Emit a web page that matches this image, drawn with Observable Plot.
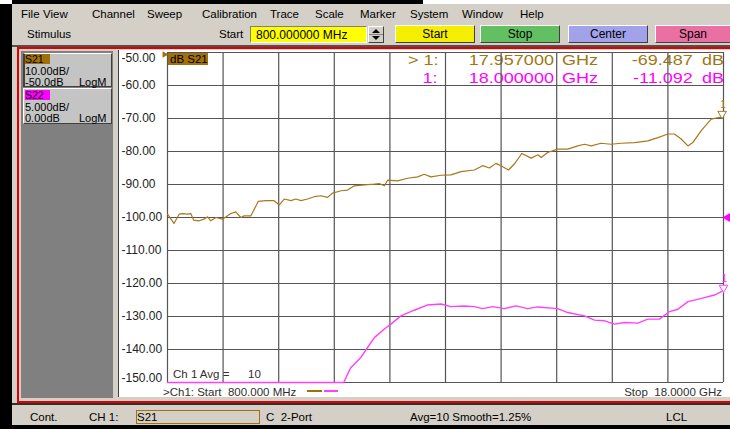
<!DOCTYPE html>
<html><head><meta charset="utf-8">
<script src="https://cdn.jsdelivr.net/npm/d3@7"></script>
<script src="https://cdn.jsdelivr.net/npm/@observablehq/plot@0.6"></script>
<style>
html,body{margin:0;padding:0;background:#fff;}
#root{position:relative;width:730px;height:429px;overflow:hidden;font-family:"Liberation Sans",Arial,sans-serif;font-size:11.5px;color:#000;}
.a{position:absolute;white-space:pre;box-sizing:border-box;}
</style></head><body><div id="root"></div>
<script>
// ---------- data ----------
const S21_FREQ = [0.80,1.00,1.16,1.26,1.42,1.52,1.61,1.78,1.93,2.04,2.14,2.30,2.50,2.76,2.91,3.07,3.17,3.38,3.61,3.84,4.10,4.26,4.41,4.62,4.77,4.93,5.13,5.34,5.55,5.75,5.91,6.17,6.37,6.58,6.89,7.20,7.35,7.51,7.61,7.92,8.23,8.54,8.74,8.95,9.26,9.57,9.88,10.29,10.55,10.76,10.96,11.17,11.35,11.53,11.76,12.05,12.26,12.36,12.56,12.87,13.18,13.49,13.70,13.91,14.21,14.52,14.83,15.25,15.66,15.97,16.28,16.48,16.69,16.90,17.05,17.31,17.62,17.957,18.00];
const S21_DB = [-99.0,-101.8,-99.0,-98.8,-99.0,-98.8,-100.8,-101.0,-100.5,-99.8,-101.0,-100.0,-100.5,-98.8,-98.3,-100.0,-99.5,-99.5,-95.1,-94.9,-94.9,-96.2,-94.4,-94.9,-94.4,-94.9,-94.4,-93.7,-93.4,-93.9,-92.6,-91.9,-91.7,-90.4,-90.1,-89.9,-89.7,-90.4,-88.7,-88.9,-88.1,-87.7,-86.9,-87.7,-87.2,-87.1,-86.1,-85.6,-84.3,-85.0,-83.6,-84.6,-85.6,-83.8,-80.6,-82.0,-81.0,-81.8,-80.3,-79.3,-79.3,-78.3,-77.8,-78.3,-77.5,-77.8,-77.5,-77.3,-76.8,-75.8,-74.7,-74.7,-76.2,-78.3,-77.3,-73.7,-70.2,-69.487,-68.2];
const S22_FREQ = [0.80,6.25,6.47,6.78,6.99,7.20,7.51,7.71,8.02,8.43,8.85,9.26,9.57,9.98,10.29,10.55,10.86,11.22,11.58,11.94,12.25,12.87,13.18,13.70,14.01,14.32,14.63,14.94,15.35,15.66,16.02,16.33,16.59,16.90,17.32,17.72,18.00];
const S22_DB = [-25,-25,-22.75,-21.2,-19.7,-18.2,-16.9,-16.15,-14.9,-14.05,-13.25,-13.1,-13.5,-13.4,-13.5,-13.8,-13.5,-13.8,-13.4,-13.8,-13.55,-13.8,-14.4,-14.9,-15.55,-15.65,-16.15,-15.9,-16.0,-15.4,-15.4,-14.25,-13.9,-12.75,-12.25,-11.75,-11.092];
const Y_TICKS = [-50,-60,-70,-80,-90,-100,-110,-120,-130,-140,-150];
const Y_LABELS = ["-50.00","-60.00","-70.00","-80.00","-90.00","-100.00","-110.00","-120.00","-130.00","-140.00","-150.00"];
const X_GRID = [0.8,2.52,4.24,5.96,7.68,9.4,11.12,12.84,14.56,16.28,18];
const MARKER_S21 = {f:17.957, db:-69.487};
const MARKER_S22 = {f:18.0, db:-11.092};
const S21_SCALE = 10, S22_SCALE = 5, S22_REF = 0, CENTER = -100;
const MENU = [["File",21],["View",43],["Channel",92],["Sweep",147],["Calibration",202],["Trace",270],["Scale",315],["Marker",360],["System",410],["Window",462],["Help",520]];

// ---------- chrome ----------
const root = document.getElementById("root");
function box(x,y,w,h,css){const d=document.createElement("div");d.className="a";Object.assign(d.style,{left:x+"px",top:y+"px",width:w+"px",height:h+"px"},css||{});root.appendChild(d);return d;}
function txt(x,yc,s,css){const d=document.createElement("div");d.className="a";d.textContent=s;Object.assign(d.style,{left:x+"px",top:(yc-5)+"px",height:"10px",lineHeight:"10px"},css||{});root.appendChild(d);return d;}
function txtR(xr,yc,s,css){const d=document.createElement("div");d.className="a";d.textContent=s;Object.assign(d.style,{right:(730-xr)+"px",top:(yc-8)+"px",height:"16px",lineHeight:"16px",textAlign:"right"},css||{});root.appendChild(d);return d;}
const G="#d4d0c8";
const raised={borderTop:"1px solid #fff",borderLeft:"1px solid #fff",borderBottom:"1px solid #404040",borderRight:"1px solid #404040"};
const sunken={borderTop:"1px solid #808080",borderLeft:"1px solid #808080",borderBottom:"1px solid #fff",borderRight:"1px solid #fff"};

box(12,0,411,4,{background:"#000"});
box(0,4,12,425,{background:"#000"});
box(12,4,718,42,{background:G});
MENU.forEach(([s,x])=>txt(x,14,s,{fontSize:"11.5px"}));
txt(27,34,"Stimulus");
txt(219,34,"Start");
box(250,26,117,17,Object.assign({background:"#ffff00"},sunken));
txt(256,34.5,"800.000000 MHz",{fontSize:"12px"});
box(368,26,16,17,Object.assign({background:G},raised));
box(372,29,0,0,{borderLeft:"4px solid transparent",borderRight:"4px solid transparent",borderBottom:"4px solid #000"});
box(372,36,0,0,{borderLeft:"4px solid transparent",borderRight:"4px solid transparent",borderTop:"4px solid #000"});
box(369,34,14,1,{background:"#808080"});
const BTN=[["Start",395,80,"#f6ee00"],["Stop",480,80,"#62bf62"],["Center",568,80,"#a2a2ea"],["Span",655,76,"#ea70a4"]];
BTN.forEach(([s,x,w,c])=>{const b=box(x,25,w,18,Object.assign({background:c,textAlign:"center",lineHeight:"16px",fontSize:"12px"},raised));b.textContent=s;});
box(12,45,718,2,{background:"#505050"});
box(12,47,718,356,{background:G});
box(17,47,713,2,{background:"#e00000"});
box(17,47,2,357,{background:"#e00000"});
box(17,401,713,2,{background:"#e00000"});
box(21,51,92,347,{background:"#808080"});
box(118,50,612,347,{background:"#fff",borderLeft:"1.5px solid #404040"});
// S21 / S22 boxes
const PF={fontSize:"11px"};
box(23,53,89,34,Object.assign({background:"#c4c4c4"},raised,{borderLeft:"2px solid #404040"}));
box(25,54,25,10,{background:"#a0700a"});
txt(25,59,"S21",{fontSize:"10.5px"});
txt(25,70.5,"10.00dB/",PF);
txt(25,81.5,"-50.0dB",PF);
txt(79,81.5,"LogM",PF);
box(23,88,89,36,Object.assign({background:"#c4c4c4"},raised));
box(25,90,25,10,{background:"#ff00ff"});
txt(25,95,"S22",{fontSize:"10.5px"});
txt(25,106.5,"5.000dB/",PF);
txt(25,117.5,"0.00dB",PF);
txt(79,117.5,"LogM",PF);
// plot-area texts
box(168,53,40,12,{background:"#a0700a"});
txt(170,59,"dB S21");
const RO={fontSize:"15px",transform:"scaleX(1.2)",transformOrigin:"left center",height:"16px",lineHeight:"16px"};
const ROR={fontSize:"15px",transform:"scaleX(1.2)",transformOrigin:"right center"};
const brown="#a27614", mag="#ff00ff";
function ro(x,yc,s,c){return txt(x,yc,s,Object.assign({color:c,top:(yc-8)+"px"},RO));}
ro(408,60,"> 1:",brown);
txtR(554,60,"17.957000",Object.assign({color:brown},ROR));
ro(562,60,"GHz",brown);
txtR(693,60,"-69.487",Object.assign({color:brown},ROR));
ro(702,60,"dB",brown);
txtR(438,78,"1:",Object.assign({color:mag},ROR));
txtR(554,78,"18.000000",Object.assign({color:mag},ROR));
ro(562,78,"GHz",mag);
txtR(693,78,"-11.092",Object.assign({color:mag},ROR));
ro(702,78,"dB",mag);
txt(173,374,"Ch 1 Avg =",{color:"#303030"});
txt(248,374,"10",{color:"#303030"});
txt(163,391.5,">Ch1: Start  800.000 MHz",{color:"#303030"});
box(307,390,15,2,{background:"#a0700a"});
box(324,390,14,2,{background:"#ff40ff"});
txtR(722,391.5,"Stop  18.0000 GHz",{color:"#303030"});
// status bar
box(12,403,718,2,{background:"#303030"});
box(12,405,718,20,{background:G});
box(12,425,718,4,{background:"#000"});
txt(30,417,"Cont.");
txt(89,417,"CH 1:");
box(136,410,124,14,{border:"1px solid #a0700a",background:G});
txt(137,417,"S21");
txt(266,417,"C  2-Port");
txt(410,417,"Avg=10 Smooth=1.25%");
txt(666,417,"LCL");

// ---------- plot ----------
const s21 = S21_FREQ.map((f,i)=>({f, v:S21_DB[i]}));
const toDisp = db => CENTER + (db - S22_REF) * (S21_SCALE / S22_SCALE);
const s22 = S22_FREQ.map((f,i)=>({f, v:toDisp(S22_DB[i])}));
const labels = Y_TICKS.map((v,i)=>({v, label:Y_LABELS[i]}));
const lblStyle = {y:"v", text:"label", frameAnchor:"left", textAnchor:"start", dx:-46, fill:"#222", fontSize:12};
const m21 = [{f:MARKER_S21.f, v:MARKER_S21.db}];
const m22 = [{f:MARKER_S22.f, v:toDisp(MARKER_S22.db)}];
const ref22 = [{f:18, v:toDisp(S22_REF)}];
const ref21 = [{f:0.8, v:-50}];

const svg = Plot.plot({
  width:730, height:429,
  marginLeft:167, marginRight:7, marginTop:52, marginBottom:47,
  x:{domain:[0.8,18], axis:null},
  y:{domain:[-150,-50], axis:null},
  style:{background:"transparent", fontFamily:"Liberation Sans, Arial, sans-serif", fontSize:"12px", overflow:"visible"},
  marks:[
    Plot.ruleX(X_GRID,{stroke:"#555", strokeWidth:1.2}),
    Plot.ruleY(Y_TICKS,{stroke:"#555", strokeWidth:1.2}),
    Plot.text(labels.slice(1,-1), lblStyle),
    Plot.text(labels.slice(0,1), {...lblStyle, dy:6}),
    Plot.text(labels.slice(-1), {...lblStyle, dy:-4}),
    Plot.line(s22,{x:"f", y:"v", stroke:"#ff40ff", strokeWidth:1.4}),
    Plot.line(s21,{x:"f", y:"v", stroke:"#a8781c", strokeWidth:1.2}),
    Plot.dot(m21,{x:"f", y:"v", symbol:"triangle", rotate:180, r:3.2, dy:-3, stroke:"#a8781c", fill:"#fff", strokeWidth:1}),
    Plot.text(m21,{x:"f", y:"v", text:()=>"1", dy:-12, dx:1, fill:"#a8781c", fontSize:10}),
    Plot.dot(m22,{x:"f", y:"v", symbol:"triangle", rotate:180, r:3.2, dy:-3, stroke:"#ff40ff", fill:"#fff", strokeWidth:1}),
    Plot.text(m22,{x:"f", y:"v", text:()=>"1", dy:-12, dx:1, fill:"#ff40ff", fontSize:10}),
    Plot.dot(ref22,{x:"f", y:"v", symbol:"triangle", rotate:-90, r:4, dx:5, fill:"#ff00ff", stroke:"none"}),
    Plot.dot(ref21,{x:"f", y:"v", symbol:"triangle", rotate:90, r:2.5, dx:-3, dy:2, fill:"#a0700a", stroke:"none"})
  ]
});
svg.style.position="absolute"; svg.style.left="0px"; svg.style.top="0px";
root.appendChild(svg);
</script></body></html>
